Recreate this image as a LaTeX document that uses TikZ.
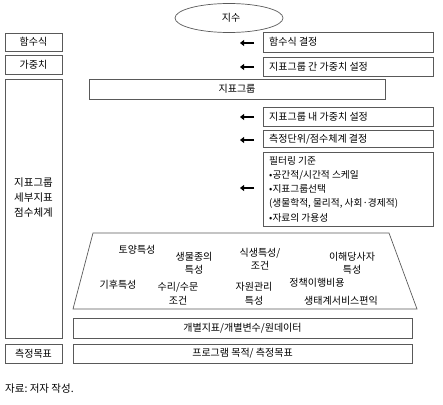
\documentclass[tikz,border=0pt]{standalone}
\usepackage{fontspec}
\setmainfont{Noto Sans CJK KR}
\usetikzlibrary{arrows.meta,shapes.geometric}
\begin{document}
\begin{tikzpicture}[x=1pt,y=-1pt,
  bx/.style={draw=black!65,line width=0.7pt},
  lbl/.style={font=\fontsize{10}{11}\selectfont,inner sep=0pt,text=black},
  two/.style={align=center,font=\fontsize{10}{13}\selectfont},
  arr/.style={line width=2.2pt,-{Triangle[length=4pt,width=6pt]},black}]
\useasboundingbox (0,0) rectangle (443,404);
% ellipse
\node[draw=black!65,line width=0.7pt,ellipse,minimum width=108pt,minimum height=29pt,inner sep=0pt] (jisu) at (229,18) {};
\node[lbl] (jisut) at (231,18) {지수};
% left column
\draw[bx] (5,33) rectangle (62,51); \node[lbl] (l1) at (33.5,42) {함수식};
\draw[bx] (5,55) rectangle (62,74); \node[lbl] (l2) at (33.5,64.5) {가중치};
\draw[bx] (5,79) rectangle (62,338);
\node[lbl,align=center,font=\fontsize{10.5}{15}\selectfont] (l3) at (33.5,198) {지표그룹\\세부지표\\점수체계};
\draw[bx] (5,344) rectangle (62,363); \node[lbl] (l4) at (33.5,353.5) {측정목표};
% right boxes
\draw[bx] (263,32) rectangle (433,52); \node[lbl,anchor=west] (r1) at (269,42) {함수식 결정};
\draw[bx] (263,57) rectangle (433,76); \node[lbl,anchor=west] (r2) at (269,66.5) {지표그룹 간 가중치 설정};
\draw[bx] (89,79) rectangle (385,99); \node[lbl] (g) at (237,89) {지표그룹};
\draw[bx] (263,107) rectangle (433,126); \node[lbl,anchor=west] (r3) at (269,116.5) {지표그룹 내 가중치 설정};
\draw[bx] (263,130) rectangle (433,147); \node[lbl,anchor=west] (r4) at (269,139) {측정단위/점수체계 결정};
\draw[bx] (263,152) rectangle (433,226);
\node[lbl,anchor=north west,align=left,font=\fontsize{9.7}{14.2}\selectfont] (r5) at (269,156) {필터링 기준\\•공간적/시간적 스케일\\•지표그룹선택\\(생물학적, 물리적, 사회·경제적)\\•자료의 가용성};
% arrows
\coordinate (a1s) at (254,43); \coordinate (a1e) at (240,43);
\coordinate (a2s) at (254,67); \coordinate (a2e) at (240,67);
\coordinate (a3s) at (254,117); \coordinate (a3e) at (240,117);
\coordinate (a4s) at (254,140); \coordinate (a4e) at (240,140);
\coordinate (a5s) at (254,188); \coordinate (a5e) at (240,188);
\foreach \i in {1,...,5} {\draw[arr] (a\i s) -- (a\i e);}
% trapezoid
\draw[bx] (93,233) -- (389,233) -- (417,309) -- (73,309) -- cycle;
\node[lbl] (t1) at (137,250) {토양특성};
\node[lbl,two] (t2) at (194,263) {생물종의\\특성};
\node[lbl,two] (t3) at (260,259) {식생특성/\\조건};
\node[lbl,two] (t4) at (352,263) {이해당사자\\특성};
\node[lbl] (t5) at (118,285) {기후특성};
\node[lbl,two,font=\fontsize{10}{14}\selectfont] (t6) at (178,294) {수리/수문\\조건};
\node[lbl,two,font=\fontsize{10}{14}\selectfont] (t7) at (254,294) {자원관리\\특성};
\node[lbl] (t8) at (317,283) {정책이행비용};
\node[lbl] (t9) at (341,301) {생태계서비스편익};
% bottom boxes
\draw[bx] (73,318) rectangle (412,338); \node[lbl] (b1) at (242.5,328) {개별지표/개별변수/원데이터};
\draw[bx] (73,344) rectangle (412,363); \node[lbl] (b2) at (242.5,353.5) {프로그램 목적/ 측정목표};
% caption
\node[lbl,anchor=west,font=\fontsize{10.5}{12}\selectfont] (cap) at (5,389) {자료:~저자~작성.};
\end{tikzpicture}
\end{document}
